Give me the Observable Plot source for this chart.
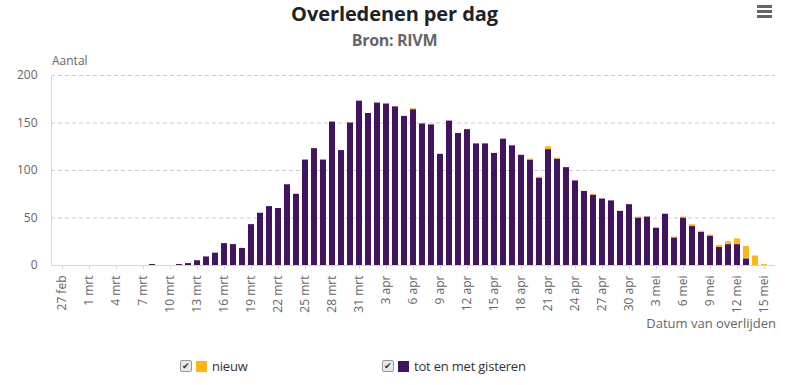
<!DOCTYPE html>
<html><head><meta charset="utf-8">
<script src="https://cdn.jsdelivr.net/npm/d3@7"></script>
<script src="https://cdn.jsdelivr.net/npm/@observablehq/plot@0.6"></script>
<style>
body{margin:0;background:#fff;font-family:"Open Sans",sans-serif;}
#wrap{position:relative;width:789px;height:385px;overflow:hidden;background:#fff;}
#title{position:absolute;left:0;width:789px;top:0px;text-align:center;font-size:20px;font-weight:700;color:#222;letter-spacing:-0.1px;}
#sub{position:absolute;left:0;width:789px;top:32px;line-height:16px;text-align:center;font-size:16px;font-weight:700;color:#666;letter-spacing:-0.3px;}
#menu{position:absolute;left:757px;top:5px;width:15px;}
#menu i{display:block;height:3px;background:#666;margin-bottom:2px;}
#ylab{position:absolute;left:52px;top:52px;font-size:12px;color:#666;}
#chart{position:absolute;left:0;top:55px;}
#xlab{position:absolute;right:13px;top:314px;font-size:13px;color:#666;}
#legend{position:absolute;top:357px;left:0;width:789px;font-size:13px;color:#333;letter-spacing:-0.2px;}
.item{position:absolute;top:0;display:flex;align-items:center;}
.cb{width:10px;height:10px;border:1px solid #999;background:#e8e8e8;border-radius:2px;font-size:9px;line-height:10px;text-align:center;color:#333;margin-right:4px;}
.sw{width:11px;height:11px;margin-right:5px;}
</style></head><body>
<div id="wrap">
  <div id="title">Overledenen per dag</div>
  <div id="sub">Bron: RIVM</div>
  <div id="menu"><i></i><i></i><i></i></div>
  <div id="ylab">Aantal</div>
  <div id="chart"></div>
  <div id="xlab">Datum van overlijden</div>
  <div id="legend"></div>
</div>
<script>
const dates = [
 "27 feb","28 feb","29 feb",
 "1 mrt","2 mrt","3 mrt","4 mrt","5 mrt","6 mrt","7 mrt","8 mrt","9 mrt","10 mrt",
 "11 mrt","12 mrt","13 mrt","14 mrt","15 mrt","16 mrt","17 mrt","18 mrt","19 mrt","20 mrt",
 "21 mrt","22 mrt","23 mrt","24 mrt","25 mrt","26 mrt","27 mrt","28 mrt","29 mrt","30 mrt","31 mrt",
 "1 apr","2 apr","3 apr","4 apr","5 apr","6 apr","7 apr","8 apr","9 apr","10 apr",
 "11 apr","12 apr","13 apr","14 apr","15 apr","16 apr","17 apr","18 apr","19 apr","20 apr",
 "21 apr","22 apr","23 apr","24 apr","25 apr","26 apr","27 apr","28 apr","29 apr","30 apr",
 "1 mei","2 mei","3 mei","4 mei","5 mei","6 mei","7 mei","8 mei","9 mei","10 mei",
 "11 mei","12 mei","13 mei","14 mei","15 mei"
];
const totEnMetGisteren = [
 0,0,0,
 0,0,0,0,0,0,0,1,0,0,
 1,2,5,9,13,23,22,18,43,55,
 62,60,85,75,111,123,111,151,121,150,173,
 160,171,170,167,157,164,149,148,117,152,
 139,143,128,128,118,133,126,116,111,92,
 122,112,103,89,78,74,70,68,57,64,
 50,51,39,54,29,50,41,35,31,19,
 22,22,7,0,0
];
const nieuw = [
 0,0,0,
 0,0,0,0,0,0,0,0,0,0,
 0,0,0,0,0,0,0,0,0,0,
 0,0,0,0,0,0,0,0,0,0,0,
 0,0,0,0,0,1,0,0,0,0,
 0,0,0,0,0,0,0,0,1,1,
 3,1,0,0,0,1,0,0,0,0,
 1,0,1,0,1,1,2,1,1,2,
 3,6,13,10,1
];
const series = ["tot en met gisteren", "nieuw"];
const colors = ["#42145f", "#ffb612"];
const yTicks = [0, 50, 100, 150, 200];
const xTicks = ["27 feb","1 mrt","4 mrt","7 mrt","10 mrt","13 mrt","16 mrt","19 mrt","22 mrt","25 mrt","28 mrt","31 mrt",
 "3 apr","6 apr","9 apr","12 apr","15 apr","18 apr","21 apr","24 apr","27 apr","30 apr",
 "3 mei","6 mei","9 mei","12 mei","15 mei"];

const rows = [];
dates.forEach((d, i) => {
  rows.push({date: d, serie: series[0], value: totEnMetGisteren[i]});
  rows.push({date: d, serie: series[1], value: nieuw[i]});
});

const chart = Plot.plot({
  width: 789,
  height: 280,
  marginTop: 20,
  marginBottom: 70,
  marginLeft: 51,
  marginRight: 14,
  style: {fontFamily: "'Open Sans', sans-serif", fontSize: "12px", color: "#666", background: "transparent"},
  x: {domain: dates, padding: 0.37, label: null, ticks: xTicks, tickRotate: -90, tickSize: 4, tickPadding: 6},
  y: {domain: [0, 200], label: null, ticks: yTicks, tickSize: 0, tickPadding: 14},
  color: {domain: series, range: colors},
  marks: [
    Plot.gridY(yTicks.filter(t => t > 0), {stroke: "#cccccc", strokeOpacity: 1, strokeDasharray: "4,3"}),
    Plot.frame({anchor: "left", stroke: "#ccd6eb"}),
    Plot.barY(rows, {x: "date", y: "value", fill: "serie", z: "serie", order: series}),
    Plot.ruleY([0], {stroke: "#ccd6eb"})
  ]
});
chart.querySelectorAll("g[aria-label='x-axis tick'] path, g[aria-label='x-axis tick'] line").forEach(e => e.setAttribute("stroke", "#ccd6eb"));
document.getElementById("chart").appendChild(chart);

const legend = document.getElementById("legend");
const lx = [180, 382];
[1, 0].forEach((si, k) => {
  const it = document.createElement("div");
  it.className = "item";
  it.style.left = lx[k] + "px";
  it.innerHTML = `<span class="cb">✔</span><span class="sw" style="background:${colors[si]}"></span><span>${series[si]}</span>`;
  legend.appendChild(it);
});
</script>
</body></html>
